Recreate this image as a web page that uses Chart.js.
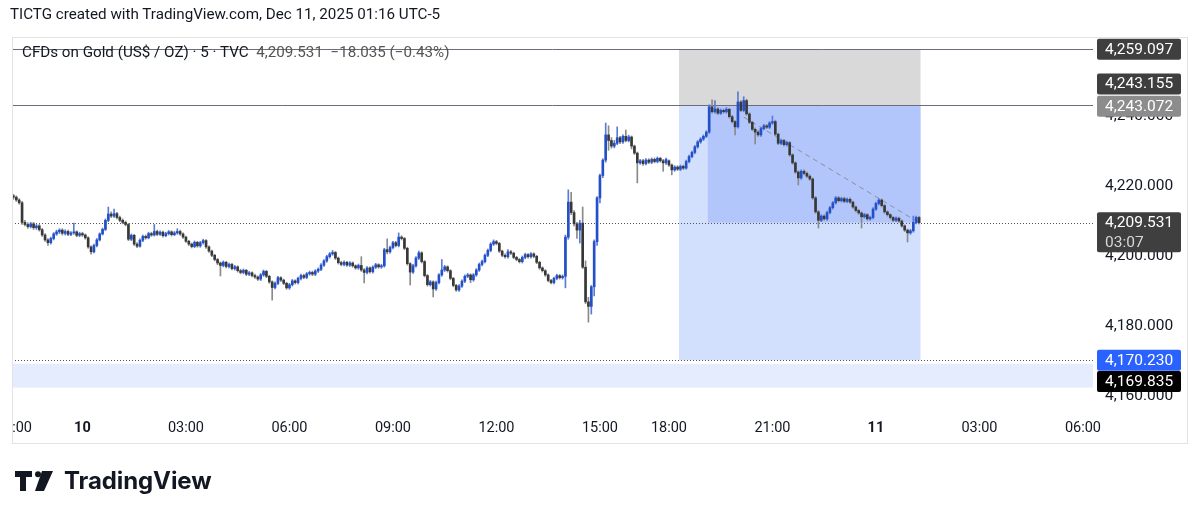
<!DOCTYPE html>
<html>
<head>
<meta charset="utf-8">
<script src="https://cdn.jsdelivr.net/npm/chart.js@4.4.1/dist/chart.umd.min.js"></script>
<style>
  body { margin: 0; background: #fff; width: 1200px; height: 520px; overflow: hidden; font-family: Roboto, "Noto Sans", sans-serif; color: #131722; }
  #c { position: absolute; left: 0; top: 0; }
  .title { position: absolute; left: 10px; top: 4px; font-size: 15.2px; line-height: 20px; }
  .legend { position: absolute; left: 22px; top: 43px; font-size: 15.2px; line-height: 18px; white-space: pre; }
  .legend span { color: #555; }
  .logo { position: absolute; left: 14px; top: 466px; display: flex; align-items: center; }
  .logo b { font-family: Inter, Roboto, sans-serif; font-size: 24px; font-weight: 700; margin-left: 10px; letter-spacing: -0.1px; color: #131722; }
</style>
</head>
<body>
<canvas id="c" width="1200" height="520"></canvas>
<div class="title">TICTG created with TradingView.com, Dec 11, 2025 01:16 UTC-5</div>
<div class="legend">CFDs on Gold (US$ / OZ) · 5 · TVC  <span>4,209.531  −18.035 (−0.43%)</span></div>
<div class="logo">
  <svg width="40" height="20" viewBox="0 0 40 20">
    <path d="M1 0h17v6h-6v14h-6v-14h-5z" fill="#131722"/>
    <circle cx="24" cy="3.2" r="3" fill="#131722"/>
    <path d="M28 0h11l-9 20h-9z" fill="#131722"/>
  </svg>
  <b>TradingView</b>
</div>
<script>
// 5 min candles, Dec 9 22:00 -> Dec 11 01:15 (market closed 17:00-18:00)
var opens = [4217.2,4216.8,4216.0,4215.2,4209.6,4209.0,4208.4,4209.2,4208.1,4208.6,
 4207.5,4206.0,4204.6,4203.8,4205.0,4206.3,4206.9,4207.4,4206.5,4207.0,
 4206.2,4206.6,4206.9,4205.9,4206.4,4206.0,4205.2,4202.6,4201.2,4203.0,
 4204.6,4206.3,4207.6,4210.2,4212.0,4211.4,4212.1,4211.0,4210.2,4209.6,
 4209.0,4204.8,4205.9,4203.4,4202.8,4204.5,4205.6,4205.2,4206.4,4206.0,
 4207.0,4206.2,4206.8,4205.8,4206.4,4206.9,4206.1,4206.6,4207.0,4206.3,
 4205.4,4204.2,4203.4,4202.7,4203.9,4202.9,4203.8,4204.4,4202.6,4201.4,
 4200.2,4199.0,4198.0,4197.3,4198.2,4197.0,4197.6,4196.4,4196.9,4195.8,
 4195.3,4195.9,4194.8,4195.2,4194.4,4194.0,4193.4,4194.6,4195.6,4194.2,
 4192.6,4191.0,4192.2,4193.8,4193.1,4192.2,4190.9,4191.8,4192.9,4192.4,
 4193.6,4194.4,4193.9,4194.9,4195.3,4194.8,4195.7,4196.2,4197.4,4198.6,
 4199.8,4200.6,4201.0,4199.4,4198.1,4197.6,4198.2,4197.4,4198.0,4197.2,
 4196.6,4197.3,4196.0,4195.3,4196.6,4195.5,4196.8,4197.5,4196.9,4197.2,
 4201.8,4201.2,4202.4,4203.8,4203.0,4205.4,4205.0,4202.2,4197.8,4195.4,
 4197.2,4199.4,4200.9,4198.4,4194.4,4191.8,4192.6,4190.6,4192.4,4194.6,
 4196.0,4196.9,4195.8,4193.6,4191.6,4190.3,4191.4,4192.8,4194.2,4194.6,
 4193.2,4194.6,4196.0,4197.6,4198.4,4200.2,4201.6,4203.4,4204.1,4203.6,
 4201.4,4200.2,4199.8,4201.2,4200.8,4199.6,4199.0,4198.4,4199.6,4200.4,
 4199.8,4200.6,4199.9,4198.2,4196.6,4195.8,4194.6,4193.0,4192.4,4193.6,
 4194.4,4193.8,4194.2,4205.4,4215.4,4212.4,4209.2,4207.4,4209.4,4196.8,
 4186.9,4185.6,4191.2,4204.1,4216.6,4223.0,4227.4,4234.6,4233.0,4231.4,
 4232.2,4233.8,4232.6,4234.2,4233.0,4234.0,4231.4,4229.4,4226.6,4227.2,
 4226.4,4227.4,4226.8,4227.6,4227.0,4227.9,4227.2,4226.6,4227.2,4226.0,
 4224.6,4225.4,4224.8,4225.6,4225.1,4227.0,4228.4,4229.6,4231.2,4232.6,
 4233.4,4234.2,4235.4,4242.6,4241.2,4242.0,4240.8,4241.6,4241.2,4241.9,
 4239.8,4238.4,4236.9,4244.0,4241.6,4244.4,4240.6,4238.2,4236.2,4235.4,
 4234.6,4236.4,4237.2,4236.8,4238.0,4238.4,4234.8,4232.2,4233.0,4231.8,
 4232.4,4228.9,4226.6,4224.0,4222.3,4224.2,4223.6,4222.8,4222.0,4216.6,
 4212.6,4210.2,4211.4,4210.6,4212.4,4213.8,4215.2,4216.6,4215.8,4216.4,
 4215.6,4216.2,4215.4,4214.0,4213.0,4212.3,4211.2,4211.8,4210.6,4211.0,
 4213.4,4215.0,4216.0,4214.4,4212.6,4211.8,4211.0,4210.2,4210.8,4210.0,
 4208.6,4207.4,4206.6,4207.2,4209.6,4211.0];
var highs = [4217.6,4217.2,4216.4,4215.6,4210.2,4209.5,4209.6,4209.6,4209.0,4209.0,
 4207.9,4206.4,4205.0,4205.4,4206.7,4207.4,4207.8,4207.8,4207.5,4207.4,
 4207.0,4209.4,4207.2,4206.8,4206.8,4206.3,4205.5,4202.9,4203.4,4205.0,
 4206.6,4208.0,4210.6,4214.0,4212.6,4213.4,4212.5,4211.4,4210.6,4210.0,
 4209.3,4206.3,4206.2,4203.8,4204.9,4206.0,4206.0,4206.8,4206.8,4209.0,
 4207.4,4207.2,4207.1,4206.8,4207.3,4207.2,4207.0,4207.8,4207.4,4206.6,
 4205.7,4204.5,4203.7,4204.3,4204.2,4204.2,4204.8,4204.7,4202.9,4201.7,
 4200.5,4199.3,4198.3,4198.6,4198.5,4198.0,4197.9,4197.3,4197.2,4196.2,
 4196.3,4196.2,4195.6,4195.5,4194.8,4194.3,4195.0,4196.0,4195.9,4194.5,
 4192.9,4192.6,4194.2,4194.1,4193.4,4192.5,4192.2,4193.3,4193.2,4194.0,
 4194.8,4194.8,4195.3,4195.7,4195.7,4196.1,4196.6,4197.8,4199.0,4200.2,
 4201.0,4201.6,4201.3,4199.7,4198.5,4198.6,4198.5,4198.4,4198.3,4197.5,
 4197.7,4199.8,4196.4,4197.0,4196.9,4197.2,4197.9,4197.8,4197.6,4202.2,
 4204.9,4202.8,4204.2,4204.2,4206.6,4205.8,4205.3,4202.5,4198.1,4197.6,
 4199.8,4201.4,4201.2,4198.7,4194.7,4193.0,4192.9,4192.8,4195.0,4199.0,
 4197.3,4197.2,4196.1,4193.9,4191.9,4191.8,4193.2,4194.6,4195.0,4194.9,
 4195.0,4196.4,4198.0,4198.8,4200.6,4202.0,4203.8,4204.6,4204.5,4203.9,
 4201.7,4200.6,4201.8,4201.6,4201.1,4199.9,4199.3,4200.0,4200.8,4200.7,
 4201.0,4200.9,4200.2,4198.5,4196.9,4196.1,4194.9,4193.3,4194.0,4194.8,
 4194.7,4194.6,4206.0,4218.9,4218.2,4213.0,4209.6,4210.2,4214.0,4198.6,
 4188.2,4191.6,4204.6,4217.0,4223.4,4227.8,4238.0,4237.2,4233.8,4233.0,
 4236.9,4234.2,4234.6,4236.0,4234.5,4234.3,4231.7,4229.7,4227.6,4227.6,
 4227.8,4227.8,4228.0,4228.0,4228.3,4228.2,4227.6,4228.0,4227.5,4226.3,
 4225.8,4225.8,4226.0,4226.0,4227.4,4228.8,4230.0,4231.6,4233.0,4233.8,
 4234.6,4235.8,4243.2,4244.6,4244.4,4242.4,4242.0,4242.0,4242.4,4242.2,
 4240.2,4238.7,4246.9,4244.4,4245.5,4244.8,4240.9,4238.5,4236.6,4235.8,
 4236.8,4237.6,4237.6,4238.4,4240.0,4238.8,4235.1,4233.4,4233.3,4232.8,
 4232.7,4229.2,4226.9,4224.3,4224.6,4224.6,4224.0,4223.2,4222.3,4217.0,
 4213.0,4211.8,4211.8,4212.8,4214.2,4215.6,4217.0,4217.0,4216.8,4216.8,
 4216.6,4216.6,4215.7,4214.3,4213.3,4212.6,4212.2,4212.1,4211.4,4213.8,
 4215.4,4216.4,4216.3,4214.7,4212.9,4212.1,4211.3,4211.2,4211.1,4210.3,
 4208.9,4207.7,4207.6,4211.4,4211.4,4211.3];
var lows = [4216.2,4215.6,4214.8,4209.0,4208.6,4207.9,4208.0,4207.6,4207.6,4207.1,
 4205.6,4204.2,4203.0,4203.4,4204.6,4205.9,4206.4,4206.0,4206.0,4205.8,
 4205.8,4206.2,4205.5,4205.5,4205.6,4204.8,4202.2,4200.5,4200.9,4202.6,
 4204.3,4206.0,4207.3,4209.8,4211.0,4211.0,4210.6,4209.8,4209.2,4208.6,
 4204.4,4204.4,4203.0,4202.4,4202.5,4204.1,4204.8,4204.9,4205.6,4205.7,
 4205.8,4205.9,4205.4,4205.5,4206.0,4205.7,4205.8,4206.2,4205.9,4205.0,
 4203.9,4203.0,4202.3,4202.4,4202.5,4202.5,4203.4,4202.2,4201.0,4199.8,
 4198.6,4197.5,4194.3,4196.9,4196.6,4196.6,4196.0,4196.0,4195.4,4194.9,
 4194.9,4194.4,4194.4,4194.0,4193.6,4193.0,4193.0,4194.2,4193.8,4192.2,
 4187.4,4190.6,4191.8,4192.7,4191.8,4190.5,4190.5,4191.4,4192.0,4192.0,
 4193.2,4193.5,4193.5,4194.5,4194.4,4194.4,4195.3,4195.8,4197.0,4198.2,
 4199.4,4200.2,4199.0,4197.7,4197.2,4197.2,4197.0,4197.0,4196.8,4196.2,
 4196.2,4195.6,4192.3,4194.9,4195.1,4195.1,4196.4,4196.5,4196.5,4196.8,
 4200.6,4200.8,4202.0,4202.6,4202.6,4204.6,4201.8,4197.4,4191.7,4195.0,
 4196.8,4199.0,4198.0,4194.0,4191.4,4191.4,4188.3,4190.2,4192.0,4194.2,
 4195.6,4195.4,4193.2,4191.2,4189.9,4189.9,4191.0,4192.4,4193.8,4192.4,
 4192.8,4194.2,4195.6,4197.2,4198.0,4199.8,4201.2,4203.0,4203.2,4201.0,
 4199.8,4199.4,4199.4,4200.4,4199.2,4198.6,4198.0,4198.0,4199.2,4199.4,
 4199.4,4199.5,4197.8,4196.2,4195.4,4194.2,4192.6,4192.0,4192.0,4193.2,
 4193.4,4193.4,4190.9,4204.8,4211.8,4208.6,4205.0,4203.7,4196.4,4186.4,
 4181.1,4183.4,4188.6,4203.0,4215.2,4222.4,4226.8,4230.2,4230.8,4230.9,
 4231.8,4232.1,4232.2,4232.6,4232.6,4230.6,4229.0,4220.9,4226.2,4225.9,
 4226.0,4226.4,4226.4,4226.6,4226.6,4226.8,4224.2,4226.2,4225.6,4223.2,
 4224.2,4224.4,4224.4,4224.7,4224.8,4226.6,4228.0,4229.2,4230.8,4232.2,
 4233.0,4233.8,4235.0,4240.8,4240.8,4240.4,4240.4,4240.8,4240.8,4239.4,
 4238.0,4234.6,4236.5,4241.2,4241.2,4240.2,4237.8,4235.8,4232.0,4234.2,
 4234.2,4236.0,4236.4,4236.4,4237.6,4234.4,4231.8,4231.8,4231.4,4231.4,
 4228.5,4226.2,4223.6,4220.3,4221.9,4223.2,4222.4,4221.6,4216.2,4212.2,
 4208.0,4209.8,4210.2,4210.2,4212.0,4213.4,4214.8,4215.4,4215.4,4215.2,
 4215.2,4215.0,4213.6,4212.6,4211.9,4208.0,4210.8,4210.2,4210.2,4210.6,
 4213.0,4214.6,4214.0,4212.2,4211.4,4210.6,4209.8,4209.8,4209.6,4208.2,
 4207.0,4204.0,4206.2,4206.8,4209.2,4209.2];
var closes = [4216.8,4216.0,4215.2,4209.6,4209.0,4208.4,4209.2,4208.1,4208.6,4207.5,
 4206.0,4204.6,4203.8,4205.0,4206.3,4206.9,4207.4,4206.5,4207.0,4206.2,
 4206.6,4206.9,4205.9,4206.4,4206.0,4205.2,4202.6,4201.2,4203.0,4204.6,
 4206.3,4207.6,4210.2,4212.0,4211.4,4212.1,4211.0,4210.2,4209.6,4209.0,
 4204.8,4205.9,4203.4,4202.8,4204.5,4205.6,4205.2,4206.4,4206.0,4207.0,
 4206.2,4206.8,4205.8,4206.4,4206.9,4206.1,4206.6,4207.0,4206.3,4205.4,
 4204.2,4203.4,4202.7,4203.9,4202.9,4203.8,4204.4,4202.6,4201.4,4200.2,
 4199.0,4198.0,4197.3,4198.2,4197.0,4197.6,4196.4,4196.9,4195.8,4195.3,
 4195.9,4194.8,4195.2,4194.4,4194.0,4193.4,4194.6,4195.6,4194.2,4192.6,
 4191.0,4192.2,4193.8,4193.1,4192.2,4190.9,4191.8,4192.9,4192.4,4193.6,
 4194.4,4193.9,4194.9,4195.3,4194.8,4195.7,4196.2,4197.4,4198.6,4199.8,
 4200.6,4201.0,4199.4,4198.1,4197.6,4198.2,4197.4,4198.0,4197.2,4196.6,
 4197.3,4196.0,4195.3,4196.6,4195.5,4196.8,4197.5,4196.9,4197.2,4201.8,
 4201.2,4202.4,4203.8,4203.0,4205.4,4205.0,4202.2,4197.8,4195.4,4197.2,
 4199.4,4200.9,4198.4,4194.4,4191.8,4192.6,4190.6,4192.4,4194.6,4196.0,
 4196.9,4195.8,4193.6,4191.6,4190.3,4191.4,4192.8,4194.2,4194.6,4193.2,
 4194.6,4196.0,4197.6,4198.4,4200.2,4201.6,4203.4,4204.1,4203.6,4201.4,
 4200.2,4199.8,4201.2,4200.8,4199.6,4199.0,4198.4,4199.6,4200.4,4199.8,
 4200.6,4199.9,4198.2,4196.6,4195.8,4194.6,4193.0,4192.4,4193.6,4194.4,
 4193.8,4194.2,4205.4,4215.4,4212.4,4209.2,4207.4,4209.4,4196.8,4186.9,
 4185.6,4191.2,4204.1,4216.6,4223.0,4227.4,4234.6,4233.0,4231.4,4232.2,
 4233.8,4232.6,4234.2,4233.0,4234.0,4231.4,4229.4,4226.6,4227.2,4226.4,
 4227.4,4226.8,4227.6,4227.0,4227.9,4227.2,4226.6,4227.566,4226.0,4224.6,
 4225.4,4224.8,4225.6,4225.1,4227.0,4228.4,4229.6,4231.2,4232.6,4233.4,
 4234.2,4235.4,4242.6,4241.2,4242.0,4240.8,4241.6,4241.2,4241.9,4239.8,
 4238.4,4236.9,4244.0,4241.6,4244.4,4240.6,4238.2,4236.2,4235.4,4234.6,
 4236.4,4237.2,4236.8,4238.0,4238.4,4234.8,4232.2,4233.0,4231.8,4232.4,
 4228.9,4226.6,4224.0,4222.3,4224.2,4223.6,4222.8,4222.0,4216.6,4212.6,
 4210.2,4211.4,4210.6,4212.4,4213.8,4215.2,4216.6,4215.8,4216.4,4215.6,
 4216.2,4215.4,4214.0,4213.0,4212.3,4211.2,4211.8,4210.6,4211.0,4213.4,
 4215.0,4216.0,4214.4,4212.6,4211.8,4211.0,4210.2,4210.8,4210.0,4208.6,
 4207.4,4206.6,4207.2,4209.6,4211.0,4209.531];

// time axis
var xTickAt = ['9 22:15','10 00:00','10 03:00','10 06:00','10 09:00','10 12:00','10 15:00','10 18:00','10 21:00','11 00:00','11 03:00','11 06:00'];
var xTickText = [':00','10','03:00','06:00','09:00','12:00','15:00','18:00','21:00','11','03:00','06:00'];
var yTicks = [4160, 4180, 4200, 4220, 4240];

// drawing levels
var stopPrice = 4259.097, linePrice = 4243.155, entryPrice = 4243.072;
var lastPrice = 4209.531, targetPrice = 4170.230, markPrice = 4169.835;
var bandTop = 4169.2, bandBottom = 4162.4;
var toolFrom = 232, entryBar = 242, toolTo = 315;
var trendFrom = [254, 4239.7], trendTo = [315, 4209.531];

// build slot labels (one per 5 min bar, skipping the daily break)
var labels = [];
var t = -120;
while (labels.length < 376) {
  if (!(t >= 1020 && t < 1080)) {
    var day = 10 + Math.floor(t / 1440);
    var m = ((t % 1440) + 1440) % 1440;
    var hh = Math.floor(m / 60), mm = m % 60;
    labels.push(day + ' ' + (hh < 10 ? '0' : '') + hh + ':' + (mm < 10 ? '0' : '') + mm);
  }
  t += 5;
}
var tickIdx = xTickAt.map(function (s) { return labels.indexOf(s); });

var wickData = [], bodyData = [], wickCol = [], bodyCol = [];
for (var i = 0; i < closes.length; i++) {
  var up = closes[i] >= opens[i];
  wickData.push([lows[i], highs[i]]);
  bodyData.push([opens[i], closes[i]]);
  bodyCol.push(up ? '#2350c8' : '#383838');
  wickCol.push(up ? '#5a7bd8' : '#8a8a8a');
}

function fmt(v) {
  return v.toLocaleString('en-US', { minimumFractionDigits: 3, maximumFractionDigits: 3 });
}

var overlay = {
  id: 'overlay',
  beforeDatasetsDraw: function (chart) {
    var ctx = chart.ctx, x = chart.scales.x, y = chart.scales.y, a = chart.chartArea;
    var slot = x.getPixelForValue(1) - x.getPixelForValue(0);
    var l = function (i) { return x.getPixelForValue(i) - slot / 2; };
    var r = function (i) { return x.getPixelForValue(i) + slot / 2; };
    ctx.save();
    ctx.beginPath();
    ctx.rect(a.left, a.top, a.right - a.left, a.bottom - a.top);
    ctx.clip();

    ctx.fillStyle = '#e4ecfd';
    ctx.fillRect(a.left, y.getPixelForValue(bandTop), a.right - a.left, y.getPixelForValue(bandBottom) - y.getPixelForValue(bandTop));

    // position tool
    ctx.fillStyle = '#d9d9d9';
    ctx.fillRect(l(toolFrom), y.getPixelForValue(stopPrice), r(toolTo) - l(toolFrom), y.getPixelForValue(entryPrice) - y.getPixelForValue(stopPrice));
    ctx.fillStyle = '#d3e0fd';
    ctx.fillRect(l(toolFrom), y.getPixelForValue(entryPrice), r(toolTo) - l(toolFrom), y.getPixelForValue(targetPrice) - y.getPixelForValue(entryPrice));
    ctx.fillStyle = '#b2c6fb';
    ctx.fillRect(l(entryBar), y.getPixelForValue(entryPrice), r(toolTo) - l(entryBar), y.getPixelForValue(lastPrice) - y.getPixelForValue(entryPrice));

    ctx.lineWidth = 1;
    ctx.strokeStyle = '#6b6e78';
    [stopPrice, linePrice].forEach(function (p) {
      var py = Math.round(y.getPixelForValue(p)) + 0.5;
      ctx.beginPath(); ctx.moveTo(a.left, py); ctx.lineTo(a.right, py); ctx.stroke();
    });
    ctx.setLineDash([1, 2]);
    ctx.strokeStyle = '#555';
    [lastPrice, targetPrice].forEach(function (p) {
      var py = Math.round(y.getPixelForValue(p)) + 0.5;
      ctx.beginPath(); ctx.moveTo(a.left, py); ctx.lineTo(a.right, py); ctx.stroke();
    });
    ctx.setLineDash([5, 4]);
    ctx.strokeStyle = '#8a8fa0';
    ctx.beginPath();
    ctx.moveTo(x.getPixelForValue(trendFrom[0]), y.getPixelForValue(trendFrom[1]));
    ctx.lineTo(x.getPixelForValue(trendTo[0]), y.getPixelForValue(trendTo[1]));
    ctx.stroke();
    ctx.restore();
  },
  afterDraw: function (chart) {
    var ctx = chart.ctx, y = chart.scales.y;
    ctx.save();
    // pane frame
    ctx.strokeStyle = '#e3e3e3';
    ctx.lineWidth = 1;
    ctx.strokeRect(12.5, 37.5, 1175, 406);

    function tag(price, bg, fg, shift, sub) {
      var cy = y.getPixelForValue(price) + shift;
      var h = sub ? 40 : 21;
      ctx.fillStyle = bg;
      ctx.beginPath();
      ctx.roundRect(1097, cy - 10.5, 84, h, 2);
      ctx.fill();
      ctx.fillStyle = fg;
      ctx.font = '15.5px Roboto';
      ctx.textBaseline = 'middle';
      ctx.textAlign = 'left';
      ctx.fillText(fmt(price), 1105, cy + 0.5);
      if (sub) {
        ctx.fillStyle = '#d6d6d6';
        ctx.fillText(sub, 1105, cy + 20);
      }
    }
    tag(stopPrice, '#3f3f3f', '#fff', 0);
    tag(linePrice, '#3f3f3f', '#fff', -21);
    tag(entryPrice, '#8c8c8c', '#fff', 1);
    tag(lastPrice, '#3f3f3f', '#fff', 0, '03:07');
    tag(targetPrice, '#2962ff', '#fff', 0);
    tag(markPrice, '#000', '#fff', 20);
    ctx.restore();
  }
};

new Chart(document.getElementById('c'), {
  type: 'bar',
  data: {
    labels: labels,
    datasets: [
      { data: wickData, backgroundColor: wickCol, barThickness: 1, grouped: false, order: 2 },
      { data: bodyData, backgroundColor: bodyCol, barThickness: 2, minBarLength: 1, grouped: false, order: 1 }
    ]
  },
  options: {
    responsive: false,
    animation: false,
    devicePixelRatio: 1,
    layout: { padding: { left: 12, top: 37, right: 12, bottom: 77 } },
    plugins: { legend: { display: false }, tooltip: { enabled: false } },
    scales: {
      x: {
        type: 'category',
        offset: true,
        grid: { display: false, drawTicks: false },
        border: { display: false },
        afterBuildTicks: function (s) { s.ticks = tickIdx.map(function (v) { return { value: v }; }); },
        afterFit: function (s) { s.height = 33; },
        ticks: {
          autoSkip: false,
          maxRotation: 0,
          padding: 10,
          color: '#131722',
          font: function (c) {
            var txt = c.tick ? xTickText[tickIdx.indexOf(c.tick.value)] : '';
            return { family: 'Roboto', size: 14.5, weight: (txt === '10' || txt === '11') ? 'bold' : 'normal' };
          },
          callback: function (v) { return xTickText[tickIdx.indexOf(v)]; }
        }
      },
      y: {
        type: 'linear',
        position: 'right',
        min: 4156.0,
        max: 4262.57,
        grid: { display: false, drawTicks: false },
        border: { display: false },
        afterBuildTicks: function (s) { s.ticks = yTicks.map(function (v) { return { value: v }; }); },
        afterFit: function (s) { s.width = 95; },
        ticks: {
          padding: 12,
          color: '#131722',
          font: { family: 'Roboto', size: 15.5 },
          callback: function (v) { return fmt(v); }
        }
      }
    }
  },
  plugins: [overlay]
});
</script>
</body>
</html>
